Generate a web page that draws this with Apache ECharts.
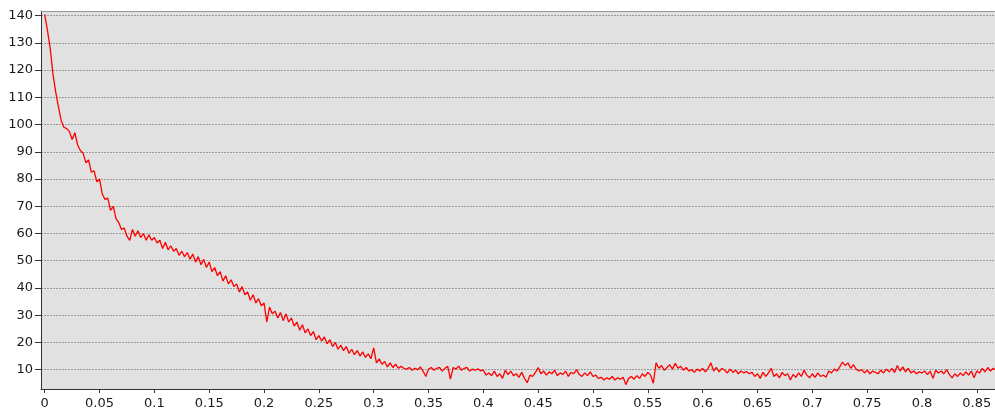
<!DOCTYPE html>
<html>
<head>
<meta charset="utf-8">
<script src="https://cdn.jsdelivr.net/npm/echarts@6/dist/echarts.min.js"></script>
<style>
html,body{margin:0;padding:0;background:#fff;}
#chart{width:995px;height:414px;}
</style>
</head>
<body>
<div id="chart"></div>
<script>
// sampling of the trace: x = xStart + i * xStep
const xStart = 0;
const xStep = 0.0025;
// y values
const yValues = [
140.5,134.5,128,118.5,112,106.5,101.5,99,98.5,97.5,
94.5,97,92.5,90.5,89.5,86,87,82.5,83,79,
80,74.5,72.5,73,68.5,70,65.5,64,61.5,62,
59,57.5,61.5,59,61,58.5,60,57.5,59.5,57.5,
58.5,56.5,57.5,54.5,56.8,54,55.5,53.5,54.5,52,
53.5,51.5,53,50.5,52.5,49.5,51.5,48.5,50.5,47.5,
49.5,46,47.5,44.5,46,42.5,44.5,41.5,43,40.5,
41.5,38.5,40.5,37.5,38.5,35.5,37.5,34.5,36,33.5,
34.5,27.5,33,30.5,31.5,29,31,28,30.5,27.5,
29,26,27.5,24.5,26.5,23.5,25,22.5,24,21,
22.5,20.5,22,19.5,21,18.5,20,17.5,19,17,
18.5,16,17.5,15.5,17,15,16.5,14.5,15.8,14,
18,12.5,14,12,13,11,12.5,10.8,12,10.5,
11.2,10.5,10.2,10.8,9.8,10.5,10,11,9.5,7.5,
10.2,10.8,9.8,10.5,10.8,9.5,10.5,11.2,6.5,10.8,
10.2,11.3,9.8,10.5,10.8,9.5,10.2,9.8,10.3,9.6,
9.8,8,8.8,7.8,9.5,7.5,8.5,6.8,9.8,8.2,
9.5,7.8,8.5,7.2,9,6.8,5.2,8,7.5,9,
10.8,8.5,9.5,8,9.2,8.5,9.8,7.8,8.8,8.2,
9.5,7.5,9,8.5,10,8.2,7.5,8.8,7.8,9.2,
7.5,8,6.8,7.2,6.2,7,6.5,7.5,6.2,7,
6.5,7.2,4.5,6.8,7.5,6.5,7.8,6.8,8.5,7.5,
9,8,5,12.5,10.5,11.5,9.8,10.8,11.8,10.2,
12.3,10.5,11.2,9.8,10.8,9.5,10,9,10.2,9.5,
10.5,9.2,10.5,12.5,9.5,10.8,9.2,10.5,9.8,8.8,
10.2,9,9.8,8.5,9.5,8.8,9.3,8.5,9,7.5,
8.5,6.8,9,7.5,8.8,10.5,7.5,8.5,7,9,
7.8,8.5,6.2,8.2,7.2,8.8,7.5,9.8,8,7,
8.5,7.2,8.8,7.5,8,7.2,9.5,8.8,10.2,9.5,
11,12.8,11.5,12.5,10.5,11.8,10.2,9.5,10,8.8,
9.8,8.5,9.5,9,8.5,9.8,8.8,10.2,9.2,10.5,
9,11.5,9.5,11,9.2,10.5,8.8,9.5,8.5,9.2,
8.8,9.5,8.2,9.5,6.8,9.8,8.8,9.5,8.5,10,
8.2,7,8.5,7.5,8.8,7.8,9.2,8,9.5,7,
9.5,8.8,10.5,9.2,10.8,9.5,10.5,9.8
];
const yTicks = [10,20,30,40,50,60,70,80,90,100,110,120,130,140];
const xTicks = [0,0.05,0.1,0.15,0.2,0.25,0.3,0.35,0.4,0.45,0.5,0.55,0.6,0.65,0.7,0.75,0.8,0.85];

const points = yValues.map((y, i) => [xStart + i * xStep, y]);

const chart = echarts.init(document.getElementById('chart'));
const labelFont = { fontFamily: 'DejaVu Sans', fontSize: 13, color: '#1a1a1a' };
chart.setOption({
  animation: false,
  backgroundColor: '#ffffff',
  grid: { left: 41, right: 0, top: 11, bottom: 25, show: true, backgroundColor: '#e1e1e1', borderWidth: 0 },
  xAxis: [{
    type: 'value', min: -0.0034, max: 0.8666,
    axisLine: { show: true, onZero: false, lineStyle: { color: '#333', width: 1 } },
    axisTick: { show: true, length: 4, customValues: xTicks, lineStyle: { color: '#333' } },
    axisLabel: Object.assign({ customValues: xTicks, margin: 8, formatter: v => String(v), showMinLabel: true, showMaxLabel: true }, labelFont),
    splitLine: { show: false }
  }, {
    type: 'value', position: 'top', min: -0.0034, max: 0.8666,
    axisLine: { show: true, onZero: false, lineStyle: { color: '#999', width: 1 } },
    axisTick: { show: false }, axisLabel: { show: false }, splitLine: { show: false }
  }],
  yAxis: {
    type: 'value', min: 2.9, max: 141.7,
    axisLine: { show: true, onZero: false, lineStyle: { color: '#333', width: 1 } },
    axisTick: { show: true, length: 6, customValues: yTicks, lineStyle: { color: '#333' } },
    axisLabel: Object.assign({ customValues: yTicks, margin: 8 }, labelFont),
    splitLine: { show: true, lineStyle: { color: '#9a9a9a', width: 1, type: [2, 1] } }
  },
  series: [{
    type: 'line', xAxisIndex: 0, data: points, showSymbol: false, symbol: 'none',
    lineStyle: { color: '#ff0000', width: 1.3 }, clip: true
  }]
});
</script>
</body>
</html>
